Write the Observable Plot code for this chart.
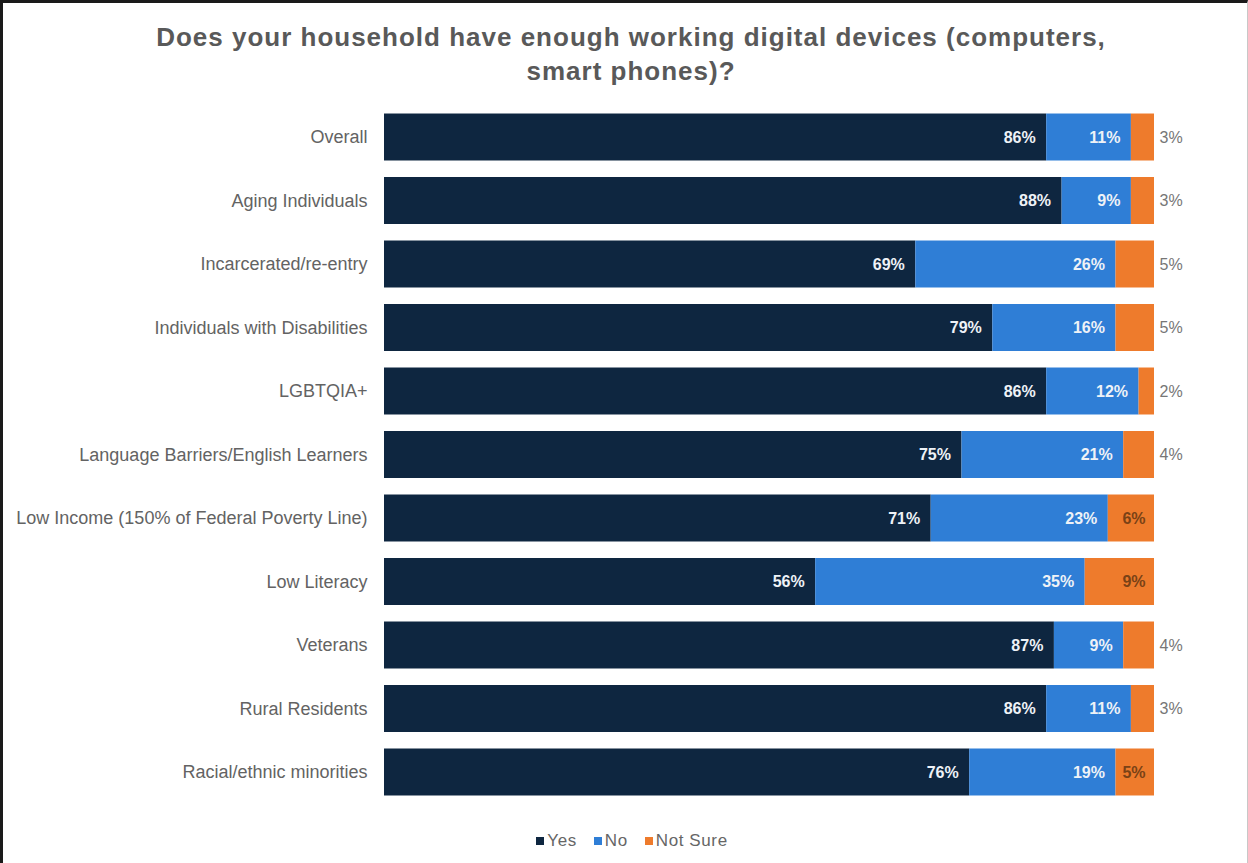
<!DOCTYPE html>
<html>
<head>
<meta charset="utf-8">
<script src="https://cdn.jsdelivr.net/npm/d3@7"></script>
<script src="https://cdn.jsdelivr.net/npm/@observablehq/plot@0.6"></script>
<style>
  html, body { margin: 0; padding: 0; background: #fff; }
  #frame {
    width: 1248px; height: 863px; box-sizing: border-box;
    border-top: 3px solid #1a1a1a; border-left: 3px solid #1a1a1a; border-right: 1px solid #c8c8c8;
    font-family: "Liberation Sans", Arial, sans-serif; overflow: hidden;
  }
  #title {
    height: 90px; box-sizing: border-box; padding: 17px 0 0 12px;
    text-align: center; font-size: 26px; letter-spacing: 1px; font-weight: bold; line-height: 34px; color: #595959;
  }
  #chart svg { display: block; }
  #legend {
    display: flex; justify-content: center; align-items: center; gap: 17px;
    padding-left: 14px; margin-top: 19px; font-size: 17px; letter-spacing: 0.6px; color: #666;
  }
  .item { display: flex; align-items: center; gap: 3px; }
  .sw { width: 8px; height: 8px; display: inline-block; }
</style>
</head>
<body>
<div id="frame">
  <div id="title">Does your household have enough working digital devices (computers,<br>smart phones)?</div>
  <div id="chart"></div>
  <div id="legend"></div>
</div>
<script>
const categories = [
  "Overall",
  "Aging Individuals",
  "Incarcerated/re-entry",
  "Individuals with Disabilities",
  "LGBTQIA+",
  "Language Barriers/English Learners",
  "Low Income (150% of Federal Poverty Line)",
  "Low Literacy",
  "Veterans",
  "Rural Residents",
  "Racial/ethnic minorities"
];
const yesValues     = [86, 88, 69, 79, 86, 75, 71, 56, 87, 86, 76];
const noValues      = [11,  9, 26, 16, 12, 21, 23, 35,  9, 11, 19];
const notSureValues = [ 3,  3,  5,  5,  2,  4,  6,  9,  4,  3,  5];
const seriesNames = ["Yes", "No", "Not Sure"];
const seriesColors = ["#0e2640", "#2f7ed6", "#ee7b2c"];
// categories whose "Not Sure" label sits beyond the bar end in the original
const notSureLabelOutside = ["Overall", "Aging Individuals", "Incarcerated/re-entry",
  "Individuals with Disabilities", "LGBTQIA+", "Language Barriers/English Learners",
  "Veterans", "Rural Residents"];

const rows = [];
categories.forEach((c, i) => {
  const vals = [yesValues[i], noValues[i], notSureValues[i]];
  let x1 = 0;
  vals.forEach((v, k) => {
    rows.push({category: c, series: seriesNames[k], value: v, x1, x2: x1 + v, label: v + "%",
      outside: k === 2 && notSureLabelOutside.includes(c)});
    x1 += v;
  });
});

const plot = Plot.plot({
  width: 1244,
  height: 719,
  marginLeft: 381,
  marginRight: 93,
  marginTop: 4,
  marginBottom: 0,
  style: {fontFamily: "'Liberation Sans', Arial, sans-serif", background: "#fff"},
  x: {domain: [0, 100], axis: null},
  y: {domain: categories, padding: 0.26, round: false, label: null, axis: null},
  color: {domain: seriesNames, range: seriesColors},
  marks: [
    Plot.barX(rows, {y: "category", x1: "x1", x2: "x2", fill: "series"}),
    Plot.axisY({tickSize: 0, tickPadding: 17, fontSize: 18, color: "#636363", label: null,
      style: {letterSpacing: "0.4px"}}),
    Plot.text(rows.filter(d => d.series !== "Not Sure"), {
      y: "category", x: "x2", text: "label", textAnchor: "end", dx: -11,
      fill: "#eef2f7", fontSize: 16, fontWeight: "bold", style: {letterSpacing: "0.5px"}
    }),
    Plot.text(rows.filter(d => d.series === "Not Sure" && !d.outside), {
      y: "category", x: "x2", text: "label", textAnchor: "end", dx: -9,
      fill: "#7a4216", fontSize: 16, fontWeight: "bold", style: {letterSpacing: "0.5px"}
    }),
    Plot.text(rows.filter(d => d.outside), {
      y: "category", x: "x2", text: "label", textAnchor: "start", dx: 5,
      fill: "#767676", fontSize: 16, style: {letterSpacing: "0.3px"}
    })
  ]
});
document.getElementById("chart").appendChild(plot);

const legend = document.getElementById("legend");
seriesNames.forEach((s, i) => {
  const it = document.createElement("span");
  it.className = "item";
  it.innerHTML = `<span class="sw" style="background:${seriesColors[i]}"></span>${s}`;
  legend.appendChild(it);
});
</script>
</body>
</html>
